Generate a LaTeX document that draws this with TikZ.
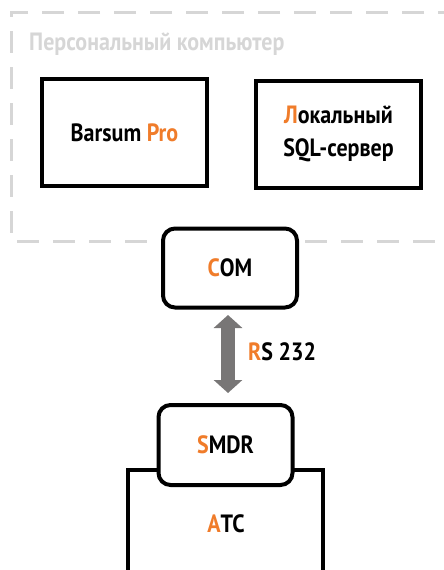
\documentclass[tikz,border=0pt]{standalone}
\usepackage{fontspec}
\setmainfont{PT Sans}[FakeStretch=0.88]
\usetikzlibrary{arrows.meta}
\definecolor{org}{HTML}{F07C2A}
\definecolor{dgray}{HTML}{D6D6D6}
\definecolor{agray}{HTML}{787676}
\tikzset{
  box/.style={draw=black, line width=4pt, fill=white, inner sep=0pt, minimum width=165pt, minimum height=107pt, font=\bfseries\fontsize{25}{33}\selectfont, align=center},
  rbox/.style={draw=black, line width=4pt, fill=white, rounded corners=12pt, inner sep=0pt, minimum width=134pt, minimum height=79pt, font=\bfseries\fontsize{25}{30}\selectfont},
  lbl/.style={font=\bfseries\fontsize{25}{30}\selectfont, inner sep=0pt},
}
\begin{document}
\begin{tikzpicture}[x=1pt,y=-1pt]
\useasboundingbox (0,0) rectangle (444,570);
\draw[dgray, line width=3pt, dash pattern=on 22pt off 14pt] (460,12) -- (11,12) -- (11,241) -- (460,241);
\node[lbl, text=dgray, anchor=west] (title) at (29,44) {Персональный компьютер};
\node[box] (barsum) at (124.5,132.5) {Barsum \textcolor{org}{Pro}};
\node[box] (sql) at (338.5,134) {\textcolor{org}{Л}окальный\\SQL-сервер};
\node[rbox] (com) at (230,268) {\textcolor{org}{C}OM};
\draw[black, line width=3.6pt, fill=white] (128,620) -- (128,470) -- (323,470) -- (323,620);
\node[rbox, minimum height=80pt] (smdr) at (225.5,445) {\textcolor{org}{S}MDR};
\node[lbl, anchor=base] (atc) at (226,532) {\textcolor{org}{A}TC};
\draw[agray, line width=14pt, {Triangle[length=13pt,width=28pt]}-{Triangle[length=13pt,width=28pt]}, shorten <=5pt, shorten >=10pt] (228,310) -- (228,403);
\node[lbl, anchor=west] (rs) at (248,352) {\textcolor{org}{R}S 232};
\end{tikzpicture}
\end{document}
